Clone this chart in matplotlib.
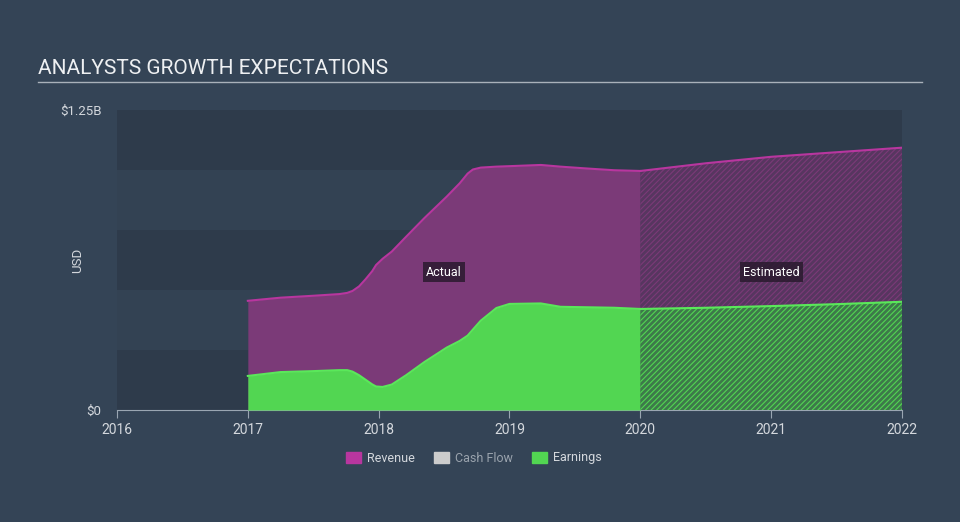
import numpy as np
import matplotlib
matplotlib.use("Agg")
import matplotlib.pyplot as plt
from matplotlib.lines import Line2D
from matplotlib.patches import Patch

plt.rcParams['font.family'] = ['Roboto', 'DejaVu Sans']

# values (billions USD, x in decimal years)
act_years = [2017.0, 2017.25, 2017.5, 2017.7, 2017.76, 2017.8, 2017.85, 2017.9, 2017.95, 2017.98,
             2018.03, 2018.1, 2018.21, 2018.35, 2018.52, 2018.62, 2018.68, 2018.72, 2018.78,
             2018.9, 2019.0, 2019.24, 2019.39, 2019.6, 2019.8, 2020.0]
act_revenue = [0.455, 0.468, 0.476, 0.483, 0.488, 0.496, 0.515, 0.545, 0.578, 0.604,
               0.630, 0.66, 0.722, 0.80, 0.889, 0.945, 0.985, 1.002, 1.010,
               1.014, 1.016, 1.021, 1.014, 1.006, 0.999, 0.996]
act_earnings = [0.142, 0.158, 0.162, 0.166, 0.166, 0.160, 0.145, 0.126, 0.107, 0.098,
                0.096, 0.106, 0.145, 0.200, 0.260, 0.288, 0.310, 0.335, 0.372,
                0.425, 0.442, 0.444, 0.430, 0.428, 0.426, 0.421]

est_years = [2020.0, 2020.5, 2021.0, 2021.5, 2022.0]
est_revenue = [0.996, 1.028, 1.055, 1.074, 1.093]
est_earnings = [0.421, 0.426, 0.433, 0.441, 0.451]

x_ticks = [2016, 2017, 2018, 2019, 2020, 2021, 2022]
y_ticks = [0, 1.25]
y_tick_labels = ['$0', '$1.25B']

bg = '#344456'
band_dark = '#2e3b4b'
band_light = '#334253'
rev_fill = '#7b3a78'
rev_line = '#b8369f'
earn_fill = '#52d652'
earn_line = '#5ae85a'
txt = '#d4d8dd'

fig = plt.figure(figsize=(9.6, 5.22), dpi=100, facecolor=bg)
ax = fig.add_axes([117/960, 112/522, 785/960, 300/522])
ax.set_facecolor(band_dark)

for i, lo in enumerate(np.arange(0, 1.25, 0.25)):
    ax.axhspan(lo, lo + 0.25, color=band_dark if i % 2 == 0 else band_light, lw=0, zorder=0)

# actual (solid)
ax.fill_between(act_years, 0, act_revenue, color=rev_fill, lw=0, zorder=2)
ax.plot(act_years, act_revenue, color=rev_line, lw=1.5, zorder=4)
ax.fill_between(act_years, 0, act_earnings, color=earn_fill, lw=0, zorder=3)
ax.plot(act_years, act_earnings, color=earn_line, lw=1.5, zorder=4)

# estimated (hatched)
plt.rcParams['hatch.linewidth'] = 0.8
ax.fill_between(est_years, est_earnings, est_revenue, facecolor='#573660',
                edgecolor=rev_fill, hatch='//////', lw=0, zorder=2)
ax.plot(est_years, est_revenue, color=rev_line, lw=1.5, zorder=4)
ax.fill_between(est_years, 0, est_earnings, facecolor='#3d7a4a',
                edgecolor=earn_fill, hatch='//////', lw=0, zorder=3)
ax.plot(est_years, est_earnings, color=earn_line, lw=1.5, zorder=4)

box = dict(boxstyle='square,pad=0.25', fc='#2a1a2e', ec='none', alpha=0.85)
ax.text(2018.5, 0.575, 'Actual', color='white', fontsize=9, ha='center', va='center', bbox=box, zorder=6)
ax.text(2021.0, 0.575, 'Estimated', color='white', fontsize=9, ha='center', va='center', bbox=box, zorder=6)

ax.set_xlim(2016, 2022.0)
ax.set_ylim(0, 1.25)
ax.set_xticks(x_ticks)
ax.set_xticklabels([str(y) for y in x_ticks])
ax.set_yticks(y_ticks)
ax.set_yticklabels(y_tick_labels)
for s in ['top', 'right', 'left']:
    ax.spines[s].set_visible(False)
ax.spines['bottom'].set_color('#9aa6b2')
ax.tick_params(axis='x', colors='#9aa6b2', labelcolor=txt, labelsize=10, length=6, pad=3)
ax.tick_params(axis='y', length=0, labelcolor=txt, labelsize=9.5, pad=11)
ax.set_ylabel('USD', color=txt, fontsize=9.5)
ax.yaxis.set_label_coords(-0.042, 0.5)

fig.text(38/960, 1 - 68/522, 'ANALYSTS GROWTH EXPECTATIONS', color='#eef0f2', fontsize=15,
         ha='left', va='center')
fig.add_artist(Line2D([38/960, 922/960], [1 - 82/522, 1 - 82/522], color='#a9b1ba', lw=1))

handles = [Patch(color=rev_line), Patch(color='#cccccc'), Patch(color=earn_fill)]
leg = fig.legend(handles, ['Revenue', 'Cash Flow', 'Earnings'], loc='center',
                 bbox_to_anchor=(474/960, 1 - 458/522), ncol=3, frameon=False,
                 fontsize=9, handlelength=1.2, handleheight=1.0, columnspacing=1.5,
                 handletextpad=0.5)
for t, c in zip(leg.get_texts(), [txt, '#9aa3ad', txt]):
    t.set_color(c)

fig.savefig('out.png', dpi=100, facecolor=bg)
